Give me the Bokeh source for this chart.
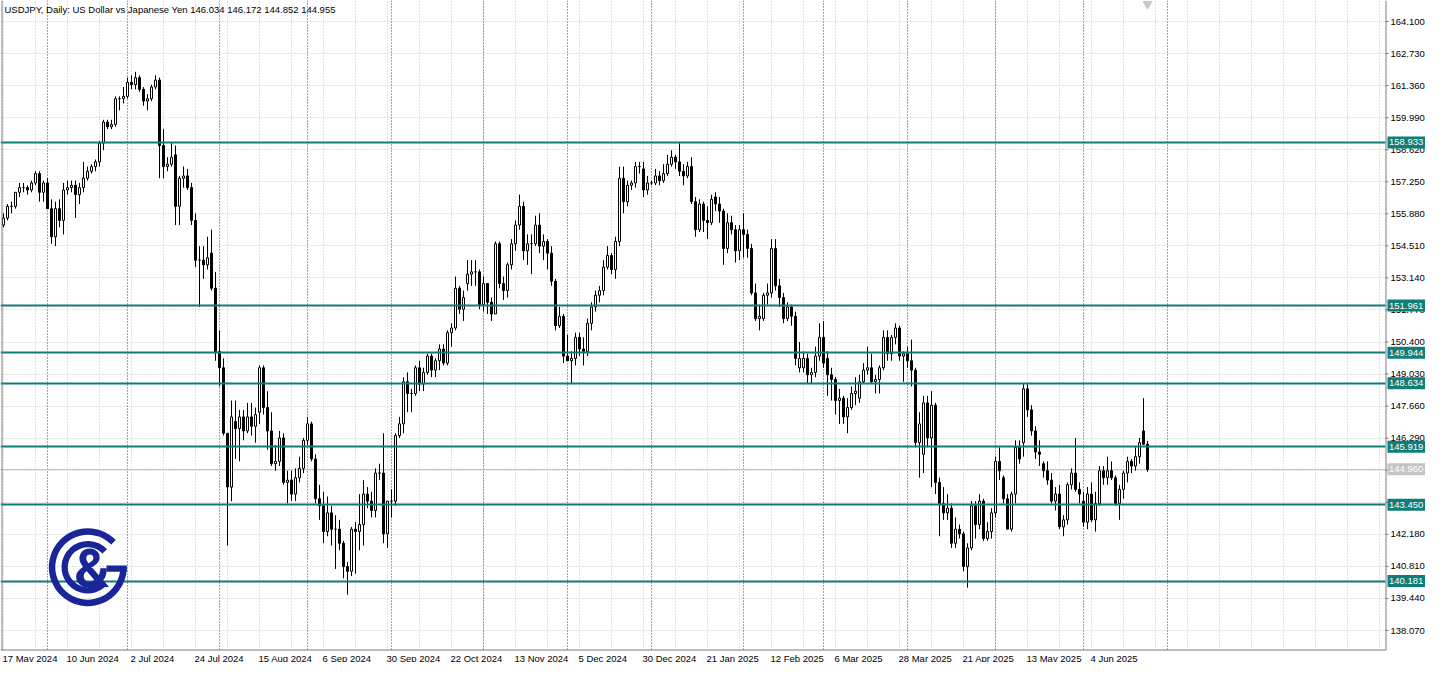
import numpy as np
import pandas as pd
from bokeh.plotting import figure
from bokeh.models import Range1d, FixedTicker
from bokeh.core.properties import value
from bokeh.embed import file_html
from bokeh.resources import INLINE

# ---------------- data ----------------
symbol_title = "USDJPY, Daily:  US Dollar vs Japanese Yen  146.034 146.172 144.852 144.955"
first_day = "2024-05-17"
last_day = "2025-06-24"
closed_days = ["2024-12-25"]

opens = [
    155.4, 155.7, 156.2, 156.2, 156.8, 157.0, 157.0, 156.9, 157.2, 157.6,
    156.8, 157.2, 156.1, 154.9, 156.1, 155.6, 156.9, 157.0, 157.1, 156.7,
    157.0, 157.4, 157.7, 157.9, 158.1, 158.9, 159.8, 159.6, 159.7, 160.8,
    160.8, 160.9, 161.5, 161.4, 161.7, 161.2, 160.7, 160.8, 161.3, 161.6,
    158.8, 157.9, 158.0, 158.4, 156.2, 157.4, 157.5, 157.0, 155.6, 153.9,
    153.9, 153.7, 154.2, 152.7, 150.0, 149.3, 146.5, 144.2, 147.0, 146.7,
    147.2, 146.6, 147.2, 146.8, 147.4, 149.3, 147.6, 146.6, 145.2, 145.3,
    146.3, 144.4, 144.5, 143.9, 144.6, 145.0, 146.2, 146.9, 145.4, 143.7,
    143.4, 142.3, 143.1, 142.4, 142.4, 141.8, 140.8, 140.6, 142.4, 142.3,
    142.6, 143.9, 143.6, 143.2, 144.8, 144.8, 142.2, 143.6, 143.6, 146.4,
    146.9, 148.7, 148.2, 148.2, 149.3, 148.6, 149.1, 149.8, 149.2, 149.6,
    150.1, 149.5, 150.8, 151.0, 152.7, 151.8, 152.9, 153.3, 153.4, 153.4,
    152.0, 152.9, 152.1, 151.6, 154.6, 152.9, 152.6, 153.7, 154.6, 155.4,
    156.2, 154.3, 154.6, 154.6, 155.4, 154.5, 154.7, 154.2, 153.0, 151.1,
    151.5, 149.8, 149.6, 149.7, 150.6, 150.1, 150.0, 151.2, 151.9, 152.4,
    152.6, 153.6, 154.1, 153.5, 154.7, 157.4, 156.4, 157.1, 157.2, 157.9,
    157.8, 156.9, 157.2, 157.2, 157.5, 157.3, 157.6, 158.0, 158.3, 158.1,
    157.7, 157.5, 157.9, 156.4, 155.2, 156.3, 155.6, 155.5, 156.6, 156.3,
    156.0, 154.4, 155.5, 155.2, 154.3, 155.2, 155.0, 154.4, 152.5, 151.4,
    151.4, 152.4, 152.5, 154.4, 152.8, 152.3, 151.4, 151.9, 151.5, 149.3,
    149.3, 149.7, 149.0, 149.1, 149.8, 150.6, 149.7, 149.0, 148.8, 147.9,
    148.0, 147.2, 147.6, 148.2, 148.0, 148.7, 149.2, 149.3, 148.7, 148.8,
    149.3, 150.6, 149.9, 150.6, 151.0, 149.8, 149.9, 149.6, 149.2, 146.1,
    145.6, 147.8, 146.3, 147.7, 144.4, 143.5, 143.1, 143.3, 141.8, 142.4,
    142.2, 140.8, 141.6, 143.4, 142.6, 143.6, 142.0, 142.3, 143.1, 145.3,
    144.6, 143.7, 142.4, 143.9, 145.9, 146.1, 148.4, 147.5, 146.6, 145.7,
    145.2, 144.9, 144.5, 143.6, 143.9, 142.5, 142.8, 144.3, 144.8, 144.1,
    143.6, 142.7, 143.9, 142.8, 143.5, 144.9, 144.6, 144.9, 144.6, 143.5,
    144.1, 144.8, 145.3, 145.1, 145.5, 146.6, 146.034,
]
highs = [
    155.9, 156.3, 156.4, 156.8, 157.2, 157.2, 157.1, 157.3, 157.7, 157.7,
    157.3, 157.4, 156.5, 156.4, 156.5, 157.2, 157.3, 157.3, 157.3, 157.2,
    158.1, 157.9, 158.0, 158.2, 159.0, 159.9, 159.9, 159.9, 160.9, 160.9,
    161.3, 161.7, 161.8, 161.95, 161.8, 161.3, 161.0, 161.4, 161.8, 161.7,
    159.5, 158.3, 158.9, 158.8, 157.5, 157.9, 157.8, 157.2, 155.9, 154.5,
    154.5, 154.9, 155.2, 153.4, 150.9, 149.7, 146.5, 147.9, 147.9, 147.5,
    147.5, 147.8, 147.8, 147.6, 149.4, 149.4, 148.3, 147.4, 146.0, 146.6,
    146.5, 144.9, 144.9, 145.0, 145.5, 146.3, 147.2, 147.0, 145.6, 144.3,
    144.0, 143.8, 143.4, 143.0, 142.8, 141.9, 141.0, 142.5, 142.7, 143.9,
    144.5, 144.2, 144.0, 145.0, 145.2, 146.5, 143.6, 144.1, 146.5, 147.2,
    148.9, 149.1, 148.4, 149.4, 149.6, 149.3, 149.9, 149.9, 149.7, 150.3,
    150.3, 150.9, 151.2, 153.2, 152.8, 152.6, 153.9, 153.9, 153.9, 153.5,
    153.2, 152.9, 152.3, 154.7, 154.7, 153.2, 153.8, 154.8, 155.6, 156.7,
    156.4, 155.0, 155.0, 155.8, 155.9, 155.0, 154.8, 154.5, 153.1, 151.9,
    151.6, 150.7, 150.0, 150.8, 150.8, 150.6, 151.4, 152.1, 152.6, 152.8,
    153.9, 154.5, 154.2, 154.9, 157.9, 157.9, 157.3, 157.3, 158.1, 158.1,
    158.1, 157.5, 157.3, 157.8, 157.7, 158.0, 158.4, 158.6, 158.4, 158.9,
    158.0, 158.1, 158.3, 156.6, 156.5, 156.4, 156.2, 156.7, 156.8, 156.6,
    156.1, 155.9, 155.8, 155.4, 155.4, 155.9, 155.2, 154.6, 152.9, 152.0,
    152.5, 152.9, 154.8, 154.8, 153.1, 152.5, 152.1, 152.0, 151.7, 150.4,
    150.0, 149.9, 149.3, 150.2, 151.2, 151.3, 150.0, 149.3, 148.9, 148.4,
    148.1, 148.0, 148.5, 148.9, 149.0, 149.5, 150.2, 149.9, 149.0, 149.4,
    150.9, 150.9, 150.7, 151.2, 151.1, 150.0, 150.2, 150.5, 149.3, 147.4,
    148.1, 148.1, 148.3, 147.8, 144.6, 144.2, 143.9, 143.5, 142.9, 142.6,
    142.3, 141.8, 143.6, 143.6, 143.9, 143.7, 142.7, 143.3, 145.5, 145.9,
    144.7, 143.9, 144.0, 146.2, 146.2, 148.6, 148.6, 147.7, 146.8, 146.2,
    145.3, 145.3, 144.8, 144.2, 144.3, 143.0, 144.4, 145.0, 146.3, 144.4,
    144.0, 144.2, 144.4, 144.0, 145.1, 145.1, 145.5, 145.3, 144.7, 144.3,
    144.9, 145.5, 145.4, 145.9, 146.3, 148.0, 146.172,
]
lows = [
    155.3, 155.6, 155.9, 156.1, 156.6, 156.8, 156.7, 156.8, 157.1, 156.4,
    156.4, 156.1, 154.6, 154.5, 155.3, 155.0, 156.7, 156.8, 155.7, 156.3,
    156.8, 157.3, 157.6, 157.7, 157.9, 158.6, 159.5, 159.5, 159.6, 160.3,
    160.6, 160.8, 161.2, 161.2, 161.1, 160.5, 160.3, 160.7, 161.2, 157.4,
    157.4, 157.7, 157.9, 155.4, 155.4, 157.0, 156.9, 155.4, 153.6, 151.9,
    153.1, 153.5, 152.6, 149.6, 148.5, 146.4, 141.7, 143.6, 145.4, 145.3,
    146.2, 146.5, 146.4, 146.1, 146.9, 147.3, 145.8, 145.1, 144.9, 145.1,
    144.3, 143.5, 143.6, 143.6, 144.4, 144.8, 146.0, 145.3, 143.5, 142.8,
    141.8, 142.1, 141.7, 140.7, 141.5, 140.3, 139.6, 140.4, 140.5, 141.5,
    141.7, 143.3, 142.9, 142.9, 144.5, 141.8, 141.6, 142.9, 143.4, 146.3,
    146.5, 147.4, 147.4, 148.1, 148.3, 148.3, 149.0, 148.9, 148.9, 149.2,
    149.4, 149.4, 150.2, 150.9, 151.6, 151.3, 152.6, 152.8, 152.8, 151.8,
    151.7, 151.6, 151.3, 151.6, 152.7, 152.2, 152.3, 153.5, 154.3, 155.2,
    153.9, 153.7, 153.3, 154.5, 154.2, 153.9, 153.5, 152.8, 150.9, 151.0,
    149.5, 149.6, 148.6, 149.4, 149.8, 149.4, 149.8, 150.9, 151.7, 152.1,
    152.4, 153.5, 153.3, 153.1, 154.5, 155.9, 156.2, 156.9, 157.0, 157.6,
    156.6, 156.7, 157.1, 157.1, 157.1, 157.2, 157.5, 157.9, 157.8, 157.5,
    157.1, 157.4, 156.3, 154.9, 155.1, 155.1, 154.8, 155.4, 156.0, 155.5,
    153.7, 154.2, 155.0, 153.8, 153.9, 154.0, 154.0, 152.4, 151.3, 150.9,
    151.3, 152.0, 152.3, 152.6, 151.9, 151.2, 151.3, 151.1, 149.4, 149.1,
    149.1, 148.6, 148.6, 148.9, 149.6, 149.3, 148.1, 147.9, 147.3, 146.9,
    146.9, 146.5, 147.5, 147.7, 147.8, 148.6, 149.0, 148.6, 148.2, 148.2,
    149.2, 149.6, 149.6, 150.3, 149.6, 148.7, 149.3, 148.5, 145.9, 144.6,
    144.8, 145.9, 144.2, 143.9, 142.1, 142.8, 142.8, 141.6, 141.6, 142.0,
    140.6, 139.9, 141.5, 142.0, 142.4, 141.9, 141.9, 142.0, 142.9, 144.5,
    143.5, 142.4, 142.3, 143.5, 145.2, 145.5, 147.2, 146.4, 145.4, 145.1,
    144.6, 144.3, 143.5, 143.2, 142.4, 142.1, 142.6, 144.1, 144.0, 143.5,
    142.5, 142.4, 142.7, 142.3, 143.4, 144.3, 144.3, 144.5, 143.4, 142.8,
    143.7, 144.4, 144.8, 144.9, 145.2, 146.0, 144.852,
]
closes = [
    155.7, 156.2, 156.2, 156.8, 157.0, 157.0, 156.9, 157.2, 157.6, 156.8,
    157.2, 156.1, 154.9, 156.1, 155.6, 156.9, 157.0, 157.1, 156.7, 157.0,
    157.4, 157.7, 157.9, 158.1, 158.9, 159.8, 159.6, 159.7, 160.8, 160.8,
    160.9, 161.5, 161.4, 161.7, 161.2, 160.7, 160.8, 161.3, 161.6, 158.8,
    157.9, 158.0, 158.3, 156.2, 157.4, 157.5, 157.0, 155.6, 153.9, 153.9,
    153.7, 154.0, 152.7, 150.0, 149.3, 146.5, 144.2, 147.2, 146.7, 147.2,
    146.6, 147.2, 146.8, 147.3, 149.3, 147.6, 146.6, 145.2, 145.3, 146.3,
    144.4, 144.5, 143.9, 144.6, 145.0, 146.2, 146.9, 145.4, 143.7, 143.4,
    142.3, 143.1, 142.4, 142.4, 141.8, 140.8, 140.6, 142.4, 142.3, 142.6,
    143.9, 143.6, 143.2, 144.8, 144.8, 142.2, 143.6, 143.6, 146.4, 146.9,
    148.7, 148.2, 148.2, 149.3, 148.6, 149.1, 149.8, 149.2, 149.6, 150.1,
    149.5, 150.8, 151.0, 152.7, 151.8, 152.3, 153.3, 153.4, 153.4, 152.0,
    152.9, 152.1, 151.6, 154.6, 152.9, 152.6, 153.7, 154.6, 155.4, 156.2,
    154.3, 154.6, 154.6, 155.4, 154.5, 154.7, 154.2, 153.0, 151.1, 151.5,
    149.8, 149.6, 149.7, 150.6, 150.1, 150.0, 151.2, 151.9, 152.4, 152.6,
    153.6, 154.1, 153.5, 154.7, 157.4, 156.4, 157.1, 157.2, 157.9, 157.9,
    156.9, 157.2, 157.2, 157.5, 157.3, 157.6, 158.0, 158.3, 158.1, 157.7,
    157.5, 157.9, 156.4, 155.2, 156.3, 155.6, 155.5, 156.5, 156.3, 156.0,
    154.4, 155.5, 155.2, 154.3, 155.2, 155.0, 154.4, 152.5, 151.4, 151.5,
    152.4, 152.5, 154.4, 152.8, 152.3, 151.4, 151.9, 151.5, 149.7, 149.7,
    149.7, 149.0, 149.1, 149.8, 150.6, 149.5, 149.0, 148.8, 147.9, 148.0,
    147.2, 147.6, 148.2, 148.3, 148.7, 149.2, 149.3, 148.7, 148.8, 149.3,
    150.6, 149.9, 150.6, 151.0, 149.8, 149.9, 149.6, 149.2, 146.1, 146.9,
    147.8, 146.3, 147.7, 144.4, 143.5, 143.1, 143.3, 141.8, 142.4, 142.2,
    140.8, 141.6, 143.4, 142.6, 143.6, 142.0, 142.3, 143.1, 145.3, 144.9,
    143.7, 142.4, 143.9, 145.9, 145.4, 148.4, 147.5, 146.6, 145.7, 145.6,
    144.9, 144.5, 143.6, 143.9, 142.5, 142.8, 144.3, 144.8, 144.1, 143.9,
    142.7, 143.9, 142.8, 143.5, 144.9, 144.6, 144.9, 144.6, 143.5, 144.1,
    144.8, 145.3, 145.1, 145.5, 146.1, 146.03, 144.955,
]

level_lines = [158.933, 151.961, 149.944, 148.634, 145.919, 143.450, 140.181]
bid_price = 144.960
price_ticks = [164.100, 162.730, 161.360, 159.990, 158.620, 157.250, 155.880,
               154.510, 153.140, 151.770, 150.400, 149.030, 147.660, 146.290,
               144.920, 143.550, 142.180, 140.810, 139.440, 138.070]
time_labels = ["17 May 2024", "10 Jun 2024", "2 Jul 2024", "24 Jul 2024",
               "15 Aug 2024", "6 Sep 2024", "30 Sep 2024", "22 Oct 2024",
               "13 Nov 2024", "5 Dec 2024", "30 Dec 2024", "21 Jan 2025",
               "12 Feb 2025", "6 Mar 2025", "28 Mar 2025", "21 Apr 2025",
               "13 May 2025", "4 Jun 2025"]

# ---------------- layout constants (pixels) ----------------
W, H = 1425, 662          # whole drawing
CHART_R = 1385            # right edge of the chart area (price scale starts here)
CHART_B = 650             # bottom edge of the chart area (time scale below)
BAR_PX = 4.0
PX_Y = 23.396
X0 = -0.75
X1 = X0 + W / BAR_PX
Y1 = 164.998
Y0 = Y1 - H / PX_Y
FONT = "Liberation Sans"
FS = "9.5px"
TEAL = "#0f7d78"
GRID = "#c6c6c6"
SEP = "#4d4d4d"
FRAME = "#7a7a7a"
BIDC = "#c4c4c4"
NAVY = "#1a259a"

def dx(px):   # pixel column -> data x
    return X0 + px / BAR_PX

def dy(py):   # pixel row -> data y
    return Y1 - py / PX_Y

XR, YB = dx(CHART_R), dy(CHART_B)

# ---------------- derived ----------------
dates = pd.bdate_range(first_day, last_day)
dates = dates[~dates.isin(pd.to_datetime(closed_days))]
n = len(dates)
idx = np.arange(n)
o = np.array(opens); h = np.array(highs); l = np.array(lows); c = np.array(closes)

# month separators: every month start within the data plus the next one ahead
future = pd.bdate_range(dates[-1] + pd.Timedelta(days=1), periods=40)
all_days = dates.append(future)
months = all_days.to_period("M")
sep_all = [i for i in range(1, len(all_days)) if months[i] != months[i - 1]]
sep_idx = [i for i in sep_all if i < n] + [i for i in sep_all if i >= n][:1]
grid_idx = list(range(0, int(XR) + 1, 8))
tick_dates = pd.to_datetime(time_labels, format="%d %b %Y")
tick_idx = [int(np.where(dates == d)[0][0]) for d in tick_dates]

p = figure(frame_width=W, frame_height=H, output_backend="svg", toolbar_location=None,
           x_range=Range1d(X0, X1), y_range=Range1d(Y0, Y1), min_border=0,
           background_fill_color="white", border_fill_color="white")
p.outline_line_color = None
p.xaxis.visible = False
p.yaxis.visible = False

# grid
p.xgrid.ticker = FixedTicker(ticks=grid_idx)
p.ygrid.ticker = FixedTicker(ticks=price_ticks)
for g in (p.xgrid, p.ygrid):
    g.grid_line_color = GRID
    g.grid_line_dash = "1 2"
    g.grid_line_width = 1

# period separators
p.vspan(x=sep_idx, line_color=SEP, line_dash="1 2", line_width=1)

# bid line
p.hspan(y=[bid_price], line_color=BIDC, line_width=1)

# candles
p.segment(x0=idx, y0=l, x1=idx, y1=h, line_color="black", line_width=1)
up = c >= o
p.vbar(x=idx[up], width=0.5, top=c[up], bottom=o[up], fill_color="white",
       line_color="black", line_width=1)
p.vbar(x=idx[~up], width=0.5, top=o[~up], bottom=c[~up], fill_color="black",
       line_color="black", line_width=1)

# horizontal levels
p.hspan(y=level_lines, line_color=TEAL, line_width=2)

# chart shift marker
p.scatter(x=[n - 1], y=[dy(3.5)], marker="inverted_triangle", size=9,
          fill_color="#c8c8c8", line_color="#c8c8c8")

# scale areas (white) and chart frame
p.quad(left=[XR, X0], right=[X1, X1], top=[Y1, YB], bottom=[Y0, Y0],
       fill_color="white", line_color=None)
p.segment(x0=[dx(1.5), dx(0), XR + 0.5 / BAR_PX], y0=[Y1, dy(CHART_B - 0.5), Y1],
          x1=[dx(1.5), XR, XR + 0.5 / BAR_PX], y1=[YB, dy(CHART_B - 0.5), YB],
          line_color=FRAME, line_width=1)

# price scale ticks and labels
p.segment(x0=[XR] * len(price_ticks), y0=price_ticks, x1=[dx(CHART_R + 3)] * len(price_ticks),
          y1=price_ticks, line_color=FRAME, line_width=1)
covered = [t for t in price_ticks
           if min(abs(t - v) for v in level_lines + [bid_price]) * PX_Y < 3]
shown = [t for t in price_ticks if t not in covered]
p.text(x=[dx(CHART_R + 5)] * len(shown), y=shown, text=[f"{t:.3f}" for t in shown],
       text_align="left", text_baseline="middle", text_font=value(FONT),
       text_font_size=value(FS), text_color="black")

# price tags of the levels and the bid
tag_vals = level_lines + [bid_price]
tag_cols = [TEAL] * len(level_lines) + [BIDC]
p.rect(x=[dx(CHART_R + 21)] * len(tag_vals), y=tag_vals, width=38, height=12,
       width_units="screen", height_units="screen", fill_color=tag_cols, line_color=None)
p.text(x=[dx(CHART_R + 3.5)] * len(tag_vals), y=tag_vals, text=[f"{v:.3f}" for v in tag_vals],
       text_align="left", text_baseline="middle", text_font=value(FONT),
       text_font_size=value(FS), text_color="white")

# time scale labels (start at their bar)
p.text(x=[i - 0.25 for i in tick_idx], y=[dy(CHART_B + 2)] * len(tick_idx), text=time_labels,
       text_align="left", text_baseline="top", text_font=value(FONT),
       text_font_size=value(FS), text_color="black")

# title
p.text(x=[dx(4)], y=[dy(3)], text=[symbol_title], text_align="left", text_baseline="top",
       text_font=value(FONT), text_font_size=value(FS), text_color="black")

# logo
cx, cy = dx(87.3), dy(566.7)
p.annular_wedge(x=[cx], y=[cy], inner_radius=32.5, outer_radius=39, inner_radius_units="screen",
                outer_radius_units="screen", start_angle=np.radians(44), end_angle=np.radians(0),
                direction="anticlock", fill_color=NAVY, line_color=None)
p.annular_wedge(x=[cx], y=[cy], inner_radius=20, outer_radius=26.3, inner_radius_units="screen",
                outer_radius_units="screen", start_angle=np.radians(43), end_angle=np.radians(-50),
                direction="anticlock", fill_color=NAVY, line_color=None)
p.quad(left=[dx(106)], right=[dx(126.3)], top=[dy(565)], bottom=[dy(571.3)],
       fill_color=NAVY, line_color=None)
p.text(x=[dx(91.5)], y=[dy(568)], text=["&"], text_align="center",
       text_baseline="middle", text_font=value("Roboto"),
       text_font_style="bold", text_font_size=value("54px"), text_color=NAVY)

open("out.html", "w").write(file_html(p, INLINE))
